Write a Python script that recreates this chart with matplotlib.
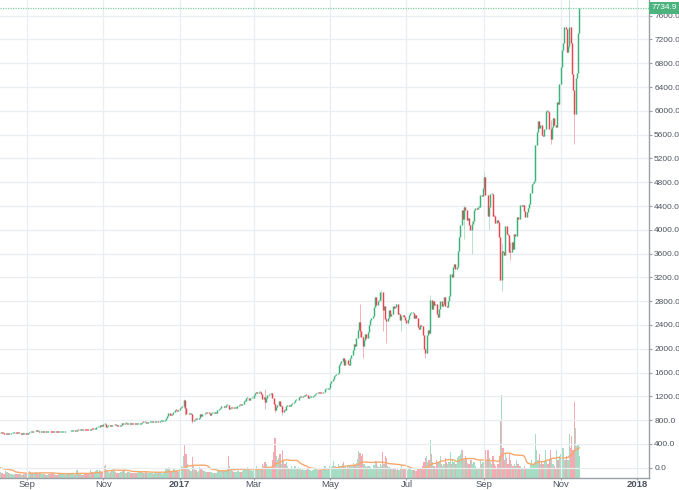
import matplotlib
matplotlib.use("Agg")
import matplotlib.pyplot as plt
import matplotlib.dates as mdates
import matplotlib.transforms as mtransforms
import numpy as np
import pandas as pd
from datetime import datetime

# ---------------- data (daily closes, USD) ----------------
first_open = 624.0
months = [(2016, 8), (2016, 9), (2016, 10), (2016, 11), (2016, 12),
          (2017, 1), (2017, 2), (2017, 3), (2017, 4), (2017, 5), (2017, 6),
          (2017, 7), (2017, 8), (2017, 9), (2017, 10), (2017, 11)]

close_2016_08 = [606, 547, 566, 578, 575, 587, 592, 591, 587, 587, 589, 587, 585, 570, 567, 581,
                 574, 574, 575, 581, 581, 586, 583, 580, 578, 578, 570, 575, 574, 577, 573]
close_2016_09 = [572, 575, 598, 608, 606, 610, 614, 626, 623, 624, 606, 608, 608, 609, 607, 606,
                 606, 611, 609, 608, 597, 596, 603, 602, 600, 606, 605, 605, 605, 608]
close_2016_10 = [613, 610, 612, 610, 612, 612, 618, 619, 616, 618, 641, 636, 636, 640, 638, 641,
                 639, 637, 630, 629, 632, 657, 655, 651, 654, 676, 686, 688, 714, 700, 699]
close_2016_11 = [729, 740, 688, 703, 703, 712, 706, 711, 723, 716, 716, 705, 702, 706, 712, 744,
                 741, 751, 751, 731, 739, 751, 741, 736, 740, 733, 728, 732, 733, 742]
close_2016_12 = [753, 775, 765, 769, 755, 759, 764, 768, 770, 773, 767, 770, 778, 778, 775, 783,
                 789, 790, 790, 799, 832, 861, 917, 891, 890, 895, 930, 975, 973, 959, 963]
close_2017_01 = [997, 1019, 1031, 1130, 1006, 896, 906, 909, 902, 907, 778, 804, 824, 818, 822, 831,
                 907, 863, 899, 895, 921, 924, 922, 918, 894, 915, 918, 920, 914, 920, 970]
close_2017_02 = [989, 1009, 1029, 1045, 1015, 1025, 1051, 1062, 994, 999, 1012, 1001, 999, 1011,
                 1011, 1032, 1050, 1055, 1048, 1079, 1115, 1117, 1167, 1173, 1144, 1165, 1179, 1180]
close_2017_03 = [1222, 1251, 1274, 1256, 1270, 1276, 1235, 1150, 1188, 1098, 1175, 1221, 1232, 1240,
                 1250, 1167, 1073, 964, 1023, 1048, 1115, 1037, 1039, 937, 972, 967, 1045, 1047,
                 1039, 1040, 1079]
close_2017_04 = [1086, 1097, 1143, 1144, 1131, 1191, 1193, 1182, 1207, 1207, 1226, 1218, 1180, 1185,
                 1187, 1187, 1205, 1218, 1231, 1257, 1261, 1258, 1257, 1250, 1265, 1281, 1317, 1317,
                 1321, 1348]
close_2017_05 = [1421, 1453, 1490, 1537, 1555, 1578, 1596, 1723, 1755, 1787, 1848, 1724, 1804, 1808,
                 1739, 1734, 1839, 1888, 1987, 2084, 2041, 2173, 2320, 2444, 2304, 2202, 2038, 2155,
                 2255, 2175, 2286]
close_2017_06 = [2407, 2488, 2515, 2555, 2698, 2863, 2733, 2805, 2823, 2947, 2958, 2659, 2717, 2507,
                 2465, 2519, 2655, 2548, 2589, 2721, 2689, 2705, 2745, 2589, 2589, 2478, 2552, 2574,
                 2539, 2480]
close_2017_07 = [2434, 2506, 2564, 2601, 2601, 2608, 2518, 2572, 2519, 2372, 2337, 2399, 2383, 2233,
                 1998, 1929, 2228, 2319, 2273, 2817, 2667, 2810, 2730, 2754, 2576, 2529, 2671, 2809,
                 2726, 2757, 2875]
close_2017_08 = [2718, 2710, 2804, 2895, 3252, 3213, 3379, 3419, 3342, 3381, 3650, 3884, 4073, 4325,
                 4181, 4376, 4331, 4160, 4194, 4087, 4001, 4100, 4151, 4334, 4371, 4352, 4382, 4382,
                 4579, 4565, 4703]
close_2017_09 = [4892, 4578, 4582, 4236, 4376, 4597, 4599, 4228, 4226, 4122, 4161, 4130, 3882, 3155,
                 3637, 3625, 3582, 4065, 3924, 3905, 3631, 3630, 3792, 3682, 3926, 3892, 4208, 4185,
                 4174, 4414]
close_2017_10 = [4403, 4410, 4310, 4208, 4292, 4370, 4427, 4611, 4773, 4782, 4820, 5431, 5638, 5829,
                 5710, 5760, 5595, 5573, 5696, 5994, 6005, 5984, 5697, 5522, 5736, 5888, 5767, 5732,
                 6141, 6123, 6451]
close_2017_11 = [6737, 7025, 7144, 7407, 7379, 6989, 7092, 7415, 7139, 6618, 6357, 5950, 6560, 6635,
                 7301, 7734.9]

# daily volume (relative units)
vol_2016_08 = [10, 22, 16, 10, 8, 7, 6, 7, 7, 7, 6, 5, 4, 4, 7, 6, 5, 5, 4, 4, 3, 4, 4, 4, 4, 4,
               4, 3, 4, 4, 5]
vol_2016_09 = [4, 5, 7, 6, 5, 4, 5, 6, 5, 4, 5, 5, 4, 4, 4, 3, 3, 4, 4, 4, 5, 4, 4, 3, 3, 4, 4,
               4, 4, 4]
vol_2016_10 = [4, 3, 4, 4, 4, 4, 5, 4, 3, 4, 8, 5, 4, 4, 3, 3, 4, 4, 4, 4, 4, 8, 6, 5, 5, 7, 8,
               6, 8, 7, 6]
vol_2016_11 = [9, 12, 13, 8, 6, 5, 6, 7, 10, 7, 6, 5, 5, 5, 6, 8, 7, 7, 5, 6, 6, 6, 5, 5, 5, 5,
               5, 5, 6, 6]
vol_2016_12 = [6, 7, 5, 5, 6, 5, 5, 5, 5, 5, 4, 5, 5, 5, 5, 5, 5, 4, 5, 6, 9, 10, 11, 9, 6, 6, 9,
               10, 7, 8, 6]
vol_2017_01 = [9, 12, 11, 22, 33, 24, 14, 9, 8, 7, 21, 12, 10, 8, 6, 7, 11, 9, 8, 7, 7, 6, 6, 6,
               6, 6, 5, 5, 5, 5, 8]
vol_2017_02 = [7, 7, 7, 7, 8, 7, 8, 10, 22, 12, 8, 7, 6, 6, 6, 7, 7, 6, 6, 7, 9, 8, 10, 11, 9, 8,
               8, 7]
vol_2017_03 = [10, 9, 12, 9, 8, 8, 10, 14, 12, 16, 14, 11, 10, 10, 10, 18, 26, 40, 22, 18, 20, 24,
               14, 28, 18, 14, 16, 12, 10, 10, 12]
vol_2017_04 = [10, 9, 12, 10, 9, 11, 9, 8, 9, 8, 8, 8, 10, 9, 8, 7, 8, 8, 9, 9, 8, 8, 8, 8, 8, 9,
               12, 10, 8, 9]
vol_2017_05 = [12, 11, 12, 17, 12, 10, 10, 14, 12, 12, 14, 16, 11, 9, 13, 11, 12, 12, 13, 15, 13,
               15, 19, 27, 25, 22, 24, 14, 12, 11, 12]
vol_2017_06 = [12, 11, 10, 10, 13, 17, 16, 12, 11, 14, 12, 26, 14, 22, 20, 12, 11, 10, 9, 10, 10,
               9, 8, 9, 8, 10, 13, 10, 9, 9]
vol_2017_07 = [8, 8, 9, 9, 8, 8, 8, 7, 7, 10, 10, 9, 9, 12, 16, 20, 22, 16, 18, 38, 24, 16, 12,
               11, 18, 15, 16, 22, 14, 12, 14]
vol_2017_08 = [20, 16, 14, 16, 26, 14, 18, 16, 14, 14, 20, 22, 24, 28, 28, 18, 22, 20, 15, 14, 18,
               18, 14, 16, 12, 10, 10, 10, 18, 14, 16]
vol_2017_09 = [22, 28, 18, 28, 20, 16, 14, 22, 14, 12, 10, 14, 22, 58, 83, 30, 18, 24, 20, 14, 24,
               18, 14, 12, 14, 12, 18, 14, 12, 12]
vol_2017_10 = [10, 10, 12, 10, 10, 10, 9, 14, 18, 14, 16, 44, 28, 18, 24, 14, 16, 14, 16, 28, 18,
               14, 18, 28, 20, 14, 12, 10, 28, 18, 22]
vol_2017_11 = [24, 26, 30, 18, 18, 22, 18, 44, 30, 42, 28, 76, 50, 32, 34, 22]

# notable wicks
wick_dates = ["2017-01-04", "2017-01-05", "2017-01-11", "2017-03-10", "2017-03-18", "2017-03-24",
              "2017-05-25", "2017-05-27", "2017-06-11", "2017-06-12", "2017-06-15", "2017-06-27",
              "2017-07-16", "2017-07-20", "2017-08-16", "2017-08-22", "2017-09-01", "2017-09-05",
              "2017-09-15", "2017-09-22", "2017-10-24", "2017-11-08", "2017-11-12"]
wick_high = [1150, 1130, 900, 1330, 1080, 1040, 2760, 2220, 2990, 2960, 2520, 2560, 2020, 2900,
             4420, 4140, 4980, 4400, 3780, 3800, 5850, 7870, 6300]
wick_low = [1010, 880, 750, 980, 940, 890, 2200, 1850, 2800, 2300, 2100, 2300, 1840, 2250,
            3850, 3600, 4650, 3990, 2970, 3500, 5450, 7050, 5450]

last_price = 7734.9
price_ticks = [0, 400, 800, 1200, 1600, 2000, 2400, 2800, 3200, 3600, 4000, 4400, 4800, 5200,
               5600, 6000, 6400, 6800, 7200, 7600]
x_tick_dates = ["2016-09-01", "2016-11-01", "2017-01-01", "2017-03-01", "2017-05-01",
                "2017-07-01", "2017-09-01", "2017-11-01", "2018-01-01"]
x_tick_labels = ["Sep", "Nov", "2017", "Mar", "May", "Jul", "Sep", "Nov", "2018"]

# ---------------- assemble ----------------
close_lists = [close_2016_08, close_2016_09, close_2016_10, close_2016_11, close_2016_12,
               close_2017_01, close_2017_02, close_2017_03, close_2017_04, close_2017_05,
               close_2017_06, close_2017_07, close_2017_08, close_2017_09, close_2017_10,
               close_2017_11]
vol_lists = [vol_2016_08, vol_2016_09, vol_2016_10, vol_2016_11, vol_2016_12, vol_2017_01,
             vol_2017_02, vol_2017_03, vol_2017_04, vol_2017_05, vol_2017_06, vol_2017_07,
             vol_2017_08, vol_2017_09, vol_2017_10, vol_2017_11]

dates = []
closes = []
vols = []
for (y, m), cl, vl in zip(months, close_lists, vol_lists):
    for i in range(len(cl)):
        dates.append(datetime(y, m, 1 + i))
    closes.extend(cl)
    vols.extend(vl[:len(cl)])

close_arr = np.array(closes, dtype=float)
open_arr = np.concatenate([[first_open], close_arr[:-1]])
vol_arr = np.array(vols, dtype=float)
hi_arr = np.maximum(open_arr, close_arr)
lo_arr = np.minimum(open_arr, close_arr)
date_index = {d.strftime("%Y-%m-%d"): i for i, d in enumerate(dates)}
for d, h, l in zip(wick_dates, wick_high, wick_low):
    i = date_index[d]
    hi_arr[i] = max(hi_arr[i], h)
    lo_arr[i] = min(lo_arr[i], l)
up = close_arr >= open_arr
vma = pd.Series(vol_arr).rolling(20, min_periods=1).mean().values
x = mdates.date2num(dates)

# ---------------- style ----------------
plt.rcParams['font.family'] = ['Liberation Sans', 'DejaVu Sans']
UP = "#3cb27a"
DOWN = "#e8434f"
UP_W = "#b7e2cc"
DOWN_W = "#f4b3b8"
UP_V = "#a6dcc3"
DOWN_V = "#f6a9b0"
GRID = "#e9eef3"
AXIS = "#9aa0a6"
TXT = "#4c525e"

fig = plt.figure(figsize=(6.79, 4.90), dpi=100)
ax = fig.add_axes([0, 12.5 / 490, 649 / 679, 477.5 / 490])

x_left = mdates.date2num(datetime(2016, 8, 10, 12))
x_right = x_left + 649 / 1.2526
ax.set_xlim(x_left, x_right)
ax.set_ylim(-165, 7864)

# grid
for t in price_ticks:
    ax.axhline(t, color=GRID, lw=0.9, zorder=0)
xt = mdates.date2num([datetime.strptime(s, "%Y-%m-%d") for s in x_tick_dates])
for t in xt:
    ax.axvline(t, color=GRID, lw=0.9, zorder=0)

# volume on twin axis
ax2 = ax.twinx()
ax2.set_ylim(0, 477.5)
ax2.set_xlim(x_left, x_right)
ax2.bar(x, vol_arr, width=1.0, color=np.where(up, UP_V, DOWN_V), lw=0, zorder=1)
ax2.plot(x, vma, color="#f7a86c", lw=1.0, zorder=2)
ax2.set_yticks([])
for s in ax2.spines.values():
    s.set_visible(False)

# candles
wick_col = np.where(up, UP_W, DOWN_W)
ax.vlines(x, lo_arr, hi_arr, colors=wick_col, lw=0.7, zorder=3)
body_lo = np.minimum(open_arr, close_arr)
body_hi = np.maximum(np.maximum(open_arr, close_arr), body_lo + 15)
body_col = np.where(up, UP, DOWN)
ax.vlines(x, body_lo, body_hi, colors=body_col, lw=1.05, zorder=4, capstyle="butt")

# last price line + label
ax.axhline(last_price, color="#7fcfa6", lw=0.9, ls=(0, (1, 1)), zorder=5)
trans = mtransforms.blended_transform_factory(ax.transAxes, ax.transData)
ax.text(1.004, last_price, "7734.9", transform=trans, ha="left", va="center",
        color="white", fontsize=6.0, clip_on=False, zorder=10,
        bbox=dict(boxstyle="square,pad=0.3", fc="#4cb37f", ec="none"))

# axes styling
ax.yaxis.tick_right()
ax.set_yticks(price_ticks)
ax.set_yticklabels([f"{t:.1f}" for t in price_ticks])
ax.set_xticks(xt)
ax.set_xticklabels(x_tick_labels)
for lbl in ax.get_xticklabels():
    if lbl.get_text() in ("2017", "2018"):
        lbl.set_fontweight("bold")
ax.tick_params(axis="y", direction="out", length=2.5, width=0.8, color=AXIS,
               labelsize=6.0, labelcolor=TXT, pad=1.2)
ax.tick_params(axis="x", direction="out", length=1.5, width=0.8, color=AXIS,
               labelsize=6.8, labelcolor=TXT, pad=0.4)
for side in ("top", "left"):
    ax.spines[side].set_visible(False)
ax.spines["right"].set_color(AXIS)
ax.spines["bottom"].set_color(AXIS)
ax.spines["right"].set_linewidth(1.0)
ax.spines["bottom"].set_linewidth(1.0)
ax.set_zorder(ax2.get_zorder() + 1)
ax.patch.set_visible(False)

fig.savefig("out.png", dpi=100, facecolor="white")
